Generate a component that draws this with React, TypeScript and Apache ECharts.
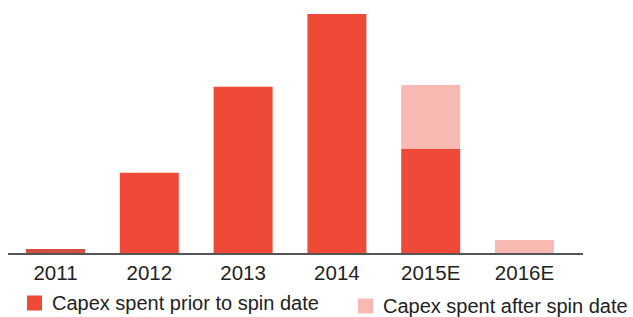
import React, { useEffect, useRef } from "react";
import * as echarts from "echarts";

const categories = ["2011", "2012", "2013", "2014", "2015E", "2016E"];
const priorValues = [2.1, 33.9, 69.7, 100, 43.75, 0];
const afterValues = [0, 0, 0, 0, 26.7, 5.8];
const seriesNames = ["Capex spent prior to spin date", "Capex spent after spin date"];

const DARK = "#EF4A37";
const LIGHT = "#F7B9B1";
const FONT = "'Liberation Sans', Arial, sans-serif";

export default function App() {
  const ref = useRef<HTMLDivElement>(null);
  useEffect(() => {
    if (!ref.current) return;
    const chart = echarts.init(ref.current, undefined, { renderer: "svg" });
    chart.setOption({
      animation: false,
      grid: { left: 8.6, right: 61.6, top: 14, bottom: 63, containLabel: false },
      xAxis: {
        type: "category",
        data: categories,
        axisLine: { show: false },
        axisTick: { show: false },
        axisLabel: { color: "#222", fontSize: 20.5, fontFamily: FONT, margin: 8 },
      },
      yAxis: { type: "value", min: 0, max: 100, show: false, splitLine: { show: false } },
      legend: [
        {
          data: [seriesNames[0]],
          left: 27,
          top: 293,
          itemWidth: 15,
          itemHeight: 15,
          icon: "rect",
          padding: 0,
          textStyle: { color: "#222", fontSize: 20, fontFamily: FONT, padding: [0, 0, 0, 5] },
        },
        {
          data: [seriesNames[1]],
          left: 358,
          top: 296,
          itemWidth: 15,
          itemHeight: 15,
          icon: "rect",
          padding: 0,
          textStyle: { color: "#222", fontSize: 20, fontFamily: FONT, padding: [0, 0, 0, 5] },
        },
      ],
      series: [
        {
          name: seriesNames[0],
          type: "bar",
          stack: "capex",
          barWidth: 59,
          itemStyle: { color: DARK },
          data: priorValues.map((v, i) => (i === 0 ? { value: v, itemStyle: { color: "#D24E3E" } } : v)),
        },
        {
          name: seriesNames[1],
          type: "bar",
          stack: "capex",
          barWidth: 59,
          itemStyle: { color: LIGHT },
          data: afterValues,
        },
      ],
      graphic: [
        {
          type: "line",
          shape: { x1: 8, y1: 254, x2: 583, y2: 254 },
          style: { stroke: "#555", lineWidth: 2 },
          z: 10,
        },
      ],
    });
    return () => chart.dispose();
  }, []);
  return <div ref={ref} style={{ width: 633, height: 317, position: "absolute", left: 0, top: 0 }} />;
}
